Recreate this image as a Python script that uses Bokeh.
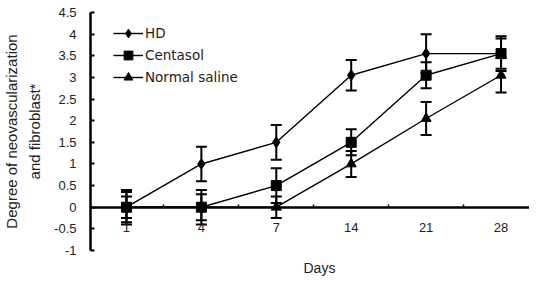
from bokeh.plotting import figure
from bokeh.models import (Range1d, FixedTicker, LinearAxis, Whisker, TeeHead,
                          ColumnDataSource, Legend, LegendItem, Title)
from bokeh.embed import file_html
from bokeh.resources import INLINE

days = ["1", "4", "7", "14", "21", "28"]
xpos = [0, 1, 2, 3, 4, 5]
hd = [0, 1.0, 1.5, 3.05, 3.55, 3.55]
hd_err = [0.4, 0.4, 0.4, 0.35, 0.45, 0.4]
centasol = [0, 0, 0.5, 1.5, 3.05, 3.55]
centasol_err = [0.35, 0.4, 0.4, 0.3, 0.3, 0.35]
saline = [0, 0, 0, 1.0, 2.05, 3.05]
saline_err = [0.25, 0.3, 0.25, 0.3, 0.38, 0.4]
yticks = [-1, -0.5, 0, 0.5, 1, 1.5, 2, 2.5, 3, 3.5, 4, 4.5]
ytick_labels = ["-1", "-0.5", "0", "0.5", "1", "1.5", "2", "2.5", "3", "3.5", "4", "4.5"]

FONT = "Liberation Sans"

p = figure(width=529, height=283, output_backend="svg", toolbar_location=None,
           x_range=Range1d(-0.48, 5.38), y_range=Range1d(-1, 4.5),
           min_border_left=79, min_border_top=12, min_border_right=0, min_border_bottom=33)
p.outline_line_color = None
p.grid.grid_line_color = None

# y axis
ya = p.yaxis[0]
ya.ticker = FixedTicker(ticks=yticks)
ya.major_label_overrides = {t: l for t, l in zip(yticks, ytick_labels)}
ya.axis_line_width = 2.5
ya.axis_line_color = "black"
ya.major_tick_in = 4
ya.major_tick_out = 0
ya.major_tick_line_width = 2
ya.minor_tick_line_color = None
ya.major_label_standoff = 14
ya.major_label_text_font = FONT
ya.major_label_text_font_size = "13px"
ya.major_label_text_color = "#222222"
ya.axis_label = "Degree of neovascularization\nand fibroblast*"
ya.axis_label_text_font = FONT
ya.axis_label_text_font_size = "15px"
ya.axis_label_text_font_style = "normal"
ya.axis_label_text_color = "#222222"
ya.axis_label_text_line_height = 1.33
ya.axis_label_standoff = 8

# hide default x axis, add one fixed at y = 0
p.xaxis.visible = False
xa = LinearAxis(fixed_location=0)
xa.ticker = FixedTicker(ticks=xpos, minor_ticks=[x + 0.5 for x in [-1] + xpos])
xa.major_label_overrides = {x: d for x, d in zip(xpos, days)}
xa.axis_line_width = 2.5
xa.axis_line_color = "black"
xa.major_tick_line_color = None
xa.major_tick_in = 0
xa.major_tick_out = 0
xa.minor_tick_in = 3
xa.minor_tick_out = 0
xa.minor_tick_line_width = 1.5
xa.major_label_standoff = 16
xa.major_label_text_font = FONT
xa.major_label_text_font_size = "13px"
xa.major_label_text_color = "#222222"
p.add_layout(xa, "below")

p.add_layout(Title(text="Days", align="left", offset=213, text_font=FONT,
                   text_font_size="14px", text_font_style="normal",
                   text_color="#222222", standoff=14), "below")

series = [
    ("HD", hd, hd_err, "diamond", 11, 7),
    ("Centasol", centasol, centasol_err, "square", 10, 8),
    ("Normal saline", saline, saline_err, "triangle", 10, 8),
]
items = []
for name, vals, errs, marker, msize, lsize in series:
    src = ColumnDataSource(dict(x=xpos, y=vals,
                                upper=[v + e for v, e in zip(vals, errs)],
                                lower=[v - e for v, e in zip(vals, errs)]))
    w = Whisker(source=src, base="x", upper="upper", lower="lower", dimension="height",
                line_width=2, line_color="black",
                upper_head=TeeHead(size=11, line_width=2, line_color="black"),
                lower_head=TeeHead(size=11, line_width=2, line_color="black"))
    p.add_layout(w)
    l = p.line("x", "y", source=src, line_color="black", line_width=1.4)
    s = p.scatter("x", "y", source=src, marker=marker, size=msize,
                  fill_color="black", line_color="black")
    lg = p.scatter([None], [None], marker=marker, size=lsize,
                   fill_color="black", line_color="black")
    items.append(LegendItem(label=name, renderers=[l, lg]))

legend = Legend(items=items, location=(23, 162), padding=0, spacing=0,
                label_height=22, glyph_height=22, glyph_width=30,
                label_text_font="DejaVu Sans", label_text_font_size="13.5px",
                label_text_color="#222222", label_standoff=2,
                border_line_color=None, background_fill_alpha=0)
p.add_layout(legend)

open("out.html", "w").write(file_html(p, INLINE))
